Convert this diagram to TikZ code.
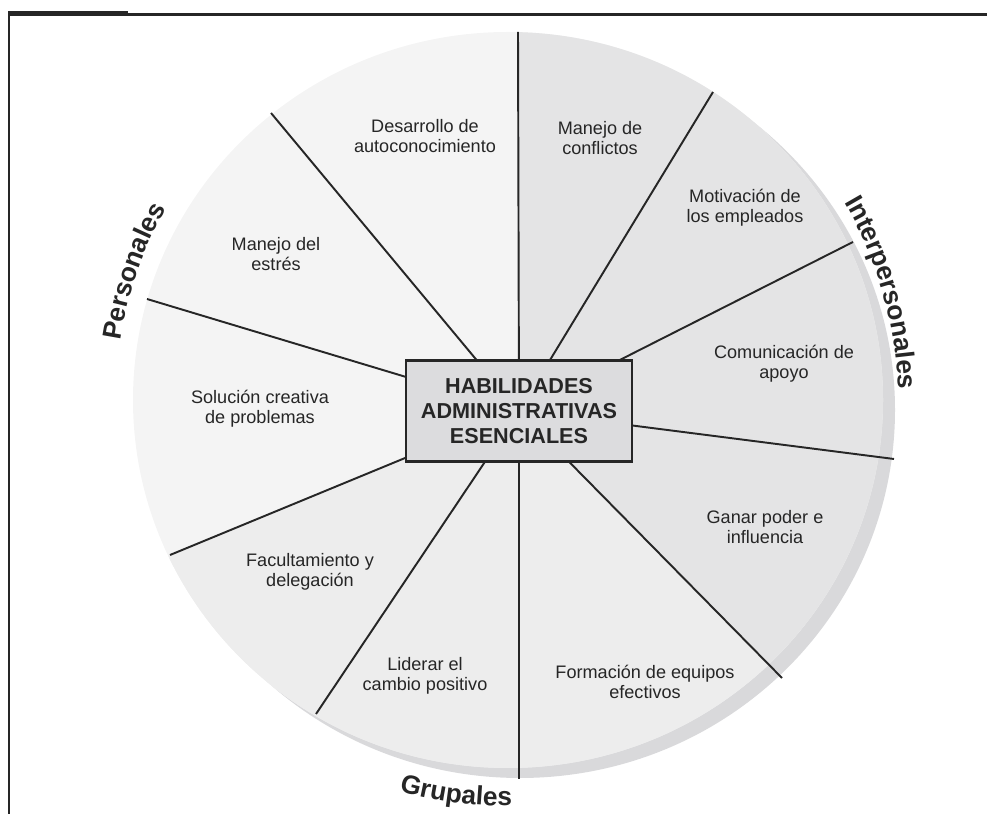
\documentclass[tikz,border=0pt]{standalone}
\usepackage{fontspec}
\setmainfont{Liberation Sans}
\usetikzlibrary{calc, decorations.text}

\definecolor{ink}{HTML}{262626}
\definecolor{personal}{HTML}{F4F4F4}
\definecolor{inter}{HTML}{E4E4E5}
\definecolor{grupal}{HTML}{EDEDED}
\definecolor{rim}{HTML}{D9D9DB}
\definecolor{hubgray}{HTML}{DCDCDE}

\newcommand\grouplabel{\bfseries\fontsize{15}{15}\selectfont}

\begin{document}
\begin{tikzpicture}[
    x=0.02cm, y=0.02cm,
    skill/.style={align=center, text=ink, inner sep=0pt, font=\fontsize{10.3}{11.4}\selectfont},
    hubbox/.style={draw=ink, line width=1.4pt, fill=hubgray, align=center, text=ink, minimum width=4.52cm, minimum height=2.02cm, font=\bfseries\fontsize{12.3}{14.2}\selectfont},
    spoke/.style={draw=ink, line width=1.1pt},
    arclabel/.style={decorate, decoration={text along path, text align=center, text color=ink, text={#1}}}
  ]
  \useasboundingbox (0,0) rectangle (987,814);

  % frame
  \fill[ink] (8,798) rectangle (128,803);
  \draw[ink, line width=1.7pt] (9,799) -- (987,799);
  \draw[ink, line width=1.7pt] (9,803) -- (9,0);

  \coordinate (c) at (508,414);
  \coordinate (hub) at (519,403);
  \foreach \n/\x/\y in {1/518/782, 2/713/722, 3/853/572, 4/894/355, 5/782/136,
                        6/519/35, 7/316/100, 8/170/259, 9/147/515, 10/271/701}
    \coordinate (s\n) at (\x,\y);

  % disc and its shadow
  \fill[rim] (520,404) ellipse[x radius=375, y radius=368];
  \fill[personal] (c) ellipse[x radius=375, y radius=368];
  \begin{scope}
    \clip (c) ellipse[x radius=375, y radius=368];
    \fill[inter] (hub) -- ($(hub)!2!(s1)$) -- ($(hub)!2!(s2)$) -- ($(hub)!2!(s3)$)
      -- ($(hub)!2!(s4)$) -- ($(hub)!2!(s5)$) -- cycle;
    \fill[grupal] (hub) -- ($(hub)!2!(s5)$) -- ($(hub)!2!(s6)$) -- ($(hub)!2!(s7)$)
      -- ($(hub)!2!(s8)$) -- cycle;
  \end{scope}

  \foreach \n in {1,...,10}
    \draw[spoke] (hub) -- (s\n);

  \node[hubbox] (core) at (hub) {HABILIDADES\\ADMINISTRATIVAS\\ESENCIALES};

  \node[skill] (autocon)    at (425,678) {Desarrollo de\\autoconocimiento};
  \node[skill] (estres)     at (276,560) {Manejo del\\estrés};
  \node[skill] (creativa)   at (260,405) {Solución creativa\\de problemas};
  \node[skill] (conflictos) at (600,676) {Manejo de\\conflictos};
  \node[skill] (motivacion) at (745,606) {Motivación de\\los empleados};
  \node[skill] (apoyo)      at (784,450) {Comunicación de\\apoyo};
  \node[skill] (poder)      at (765,287) {Ganar poder e\\influencia};
  \node[skill] (equipos)    at (645,132) {Formación de equipos\\efectivos};
  \node[skill] (cambio)     at (425,138) {Liderar el\\cambio positivo};
  \node[skill] (delegacion) at (310,242) {Facultamiento y\\delegación};

  % group names around the rim
  \path[arclabel={|\grouplabel|Personales}]
    ($(c)+(180:392)$) arc[start angle=180, end angle=142, radius=392];
  \path[arclabel={|\grouplabel|Interpersonales}]
    ($(c)+(35:390)$) arc[start angle=35, end angle=-3, radius=390];
  \path[arclabel={|\grouplabel|Grupales}]
    ($(c)+(245:406)$) arc[start angle=245, end angle=280, radius=406];
\end{tikzpicture}
\end{document}
